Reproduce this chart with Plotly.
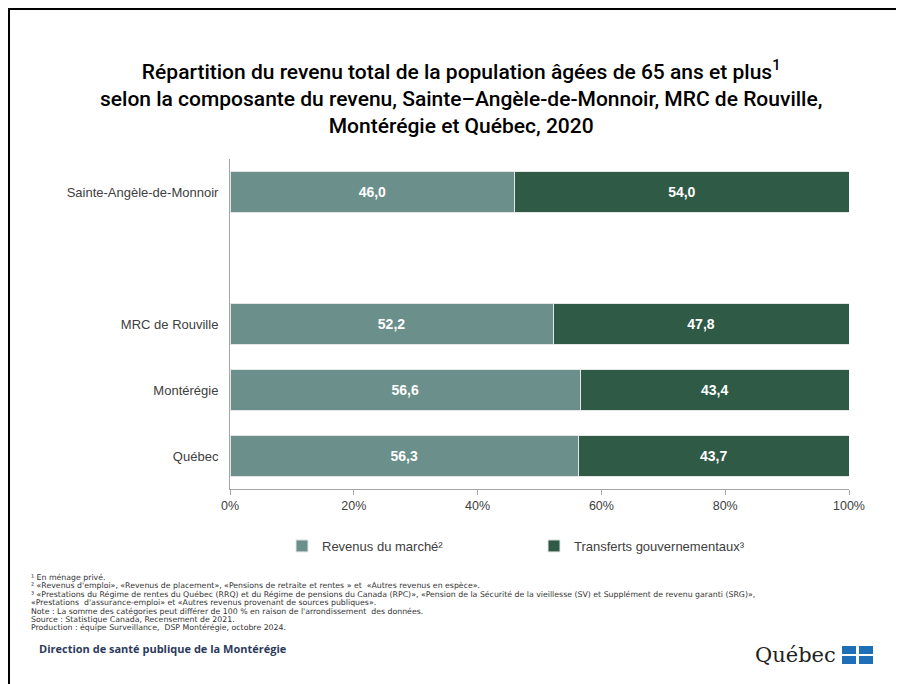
import plotly.graph_objects as go

# données (en %)
territoires = ["Québec", "Montérégie", "MRC de Rouville", " ", "Sainte-Angèle-de-Monnoir"]
revenus_marche = [56.3, 56.6, 52.2, None, 46.0]
transferts_gouv = [43.7, 43.4, 47.8, None, 54.0]
series_noms = ["Revenus du marché²", "Transferts gouvernementaux³"]
couleurs = ["#6b8f8a", "#2f5a46"]
x_ticks = [0, 20, 40, 60, 80, 100]

titre = [
    "Répartition du revenu total de la population âgées de 65 ans et plus<sup>1</sup>",
    "selon la composante du revenu, Sainte–Angèle-de-Monnoir, MRC de Rouville,",
    "Montérégie et Québec, 2020",
]

notes = [
    "¹ En ménage privé.",
    "² «Revenus d'emploi», «Revenus de placement», «Pensions de retraite et rentes » et  «Autres revenus en espèce».",
    "³ «Prestations du Régime de rentes du Québec (RRQ) et du Régime de pensions du Canada (RPC)», «Pension de la Sécurité de la vieillesse (SV) et Supplément de revenu garanti (SRG)»,",
    "«Prestations  d'assurance-emploi» et «Autres revenus provenant de sources publiques».",
    "Note : La somme des catégories peut différer de 100 % en raison de l'arrondissement  des données.",
    "Source : Statistique Canada, Recensement de 2021.",
    "Production : équipe Surveillance,  DSP Montérégie, octobre 2024.",
]

# la page html ajoute une marge de 8 px autour de la figure
W, H = 896, 676
L, R, T, B = 222, 55, 151, 195
PW, PH = W - L - R, H - T - B


def px(x):
    # x de la page -> coordonnée paper
    return (x - 8 - L) / PW


def py(y):
    return 1 - (y - 8 - T) / PH


def etiq(vals):
    return [None if v is None else f"{v:.1f}".replace(".", ",") for v in vals]


fig = go.Figure()
for nom, vals, coul in zip(series_noms, [revenus_marche, transferts_gouv], couleurs):
    fig.add_trace(go.Bar(
        y=territoires, x=vals, name=nom, orientation="h",
        marker=dict(color=coul, line=dict(color="#e6e6e6", width=1)),
        text=etiq(vals), textposition="inside", insidetextanchor="middle",
        textfont=dict(family="Liberation Sans", size=14, color="white", weight="bold"),
        hoverinfo="skip",
    ))

fig.update_layout(
    barmode="stack", bargap=0.37,
    width=W, height=H, margin=dict(l=L, r=R, t=T, b=B),
    paper_bgcolor="white", plot_bgcolor="white",
    font=dict(family="Liberation Sans", color="#404040"),
    legend=dict(
        orientation="h", x=px(282), xanchor="left", y=py(546), yanchor="middle",
        font=dict(size=13, color="#404040"), entrywidth=207, traceorder="normal",
    ),
    showlegend=True,
)

fig.update_xaxes(
    range=[0, 100], tickvals=x_ticks, ticktext=[f"{v}%" for v in x_ticks],
    showgrid=False, zeroline=False, showline=True, linecolor="#a6a6a6", linewidth=1,
    ticks="outside", ticklen=5, tickcolor="#a6a6a6",
    tickfont=dict(size=12.5, color="#404040"),
)
fig.update_yaxes(
    categoryorder="array", categoryarray=territoires, range=[-0.5, 4.5],
    showgrid=False, showline=True, linecolor="#a6a6a6", linewidth=1,
    ticks="", ticklabelstandoff=8,
    tickfont=dict(size=13, color="#404040"),
)

# titre
fig.add_annotation(text="<br>".join(titre), xref="paper", yref="paper",
                   x=px(461), y=py(97), xanchor="center", yanchor="middle",
                   showarrow=False, align="center",
                   font=dict(family="Roboto", size=21, color="black", weight=500))

# cadre de la page
fig.add_shape(type="rect", xref="paper", yref="paper",
              x0=px(9), x1=px(915), y0=py(700), y1=py(9),
              line=dict(color="black", width=2), layer="above")

# notes de bas de page
for i, txt in enumerate(notes):
    fig.add_annotation(text=txt, xref="paper", yref="paper", x=px(29), y=py(577.5 + 8.4 * i),
                       xanchor="left", yanchor="middle", showarrow=False,
                       font=dict(family="DejaVu Sans", size=7.8, color="#333333"))

fig.add_annotation(text="<b>Direction de santé publique de la Montérégie</b>",
                   xref="paper", yref="paper", x=px(37), y=py(648),
                   xanchor="left", yanchor="middle", showarrow=False,
                   font=dict(family="Open Sans", size=11, color="#2b3a5c"))

# logo Québec
fig.add_annotation(text="Québec", xref="paper", yref="paper", x=px(838), y=py(655),
                   xanchor="right", yanchor="middle", showarrow=False,
                   font=dict(family="DejaVu Serif", size=21, color="#222222"))
for cx in (842, 859):
    for cy in (646, 656):
        fig.add_shape(type="rect", xref="paper", yref="paper",
                      x0=px(cx), x1=px(cx + 14), y0=py(cy + 8), y1=py(cy),
                      fillcolor="#1d6fb8", line=dict(width=0), layer="above")

fig.write_html("out.html")
